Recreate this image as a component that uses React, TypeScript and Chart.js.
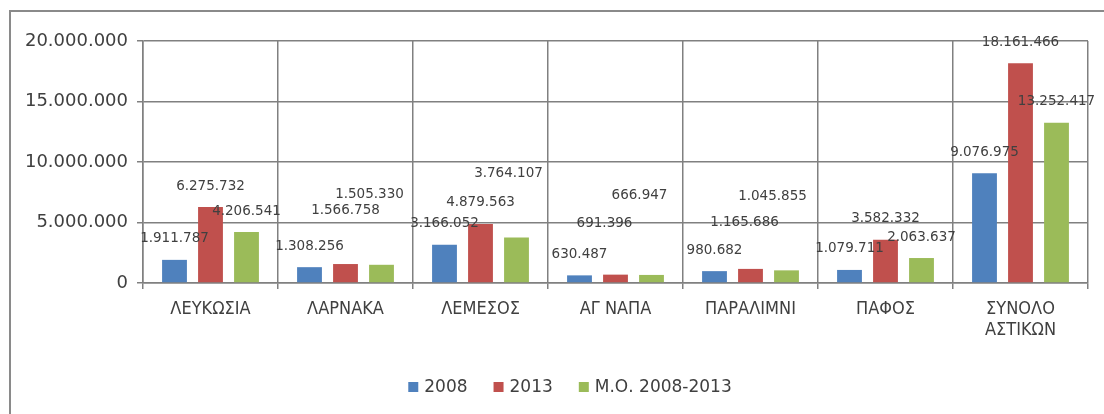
import React, { useEffect, useRef } from 'react';
import { Chart, registerables } from 'chart.js';

Chart.register(...registerables);

const categories: (string | string[])[] = [
  'ΛΕΥΚΩΣΙΑ',
  'ΛΑΡΝΑΚΑ',
  'ΛΕΜΕΣΟΣ',
  'ΑΓ ΝΑΠΑ',
  'ΠΑΡΑΛΙΜΝΙ',
  'ΠΑΦΟΣ',
  ['ΣΥΝΟΛΟ', 'ΑΣΤΙΚΩΝ'],
];

const seriesNames = ['2008', '2013', 'Μ.Ο. 2008-2013'];

const values2008 = [1911787, 1308256, 3166052, 630487, 980682, 1079711, 9076975];
const values2013 = [6275732, 1566758, 4879563, 691396, 1165686, 3582332, 18161466];
const valuesAvg = [4206541, 1505330, 3764107, 666947, 1045855, 2063637, 13252417];

const yMin = 0;
const yMax = 20000000;
const yStep = 5000000;

// label nudges (px) relative to the default "above the bar" position
const labelNudges: [number, number][][] = [
  [[0, 0], [0, 0], [0, 0], [0, 0], [0, 0], [0, 0], [0, 0]],
  [[0, 0], [0, -33], [0, 0], [-11, -30], [-6, -25], [0, 0], [0, 0]],
  [[0, 0], [-12, -49], [-8, -43], [-12, -58], [-14, -53], [0, 0], [0, 0]],
];

const colors = ['#4F81BD', '#C0504D', '#9BBB59'];
const gridColor = '#808080';
const textColor = '#404040';
const numFont = '"DejaVu Sans", "Liberation Sans", sans-serif';
const catFont = '"Liberation Sans Narrow", "DejaVu Sans Condensed", "Liberation Sans", sans-serif';

const fmt = (v: number) => String(Math.round(v)).replace(/\B(?=(\d{3})+(?!\d))/g, '.');

const borderPlugin = {
  id: 'outerBorder',
  beforeDraw(chart: any) {
    const ctx = chart.ctx;
    ctx.save();
    ctx.fillStyle = '#ffffff';
    ctx.fillRect(0, 0, chart.width, chart.height);
    ctx.strokeStyle = '#8a8a8a';
    ctx.lineWidth = 2;
    ctx.beginPath();
    ctx.moveTo(10, chart.height);
    ctx.lineTo(10, 11);
    ctx.lineTo(chart.width, 11);
    ctx.stroke();
    ctx.restore();
  },
};

const valueLabelPlugin = {
  id: 'valueLabels',
  afterDatasetsDraw(chart: any) {
    const ctx = chart.ctx;
    ctx.save();
    ctx.font = `13.5px ${numFont}`;
    ctx.fillStyle = textColor;
    ctx.textAlign = 'center';
    ctx.textBaseline = 'middle';
    chart.data.datasets.forEach((ds: any, di: number) => {
      const meta = chart.getDatasetMeta(di);
      meta.data.forEach((bar: any, i: number) => {
        const [dx, dy] = labelNudges[di][i];
        ctx.fillText(fmt(ds.data[i]), bar.x + dx, bar.y - 21 + dy);
      });
    });
    ctx.restore();
  },
};

const legendPlugin = {
  id: 'customLegend',
  afterDraw(chart: any) {
    const ctx = chart.ctx;
    ctx.save();
    ctx.font = `17px ${numFont}`;
    ctx.textBaseline = 'middle';
    ctx.textAlign = 'left';
    const box = 10;
    const boxGap = 6;
    const itemGap = 26;
    const items = chart.data.datasets.map((ds: any) => ({
      label: ds.label,
      color: ds.backgroundColor,
      w: box + boxGap + ctx.measureText(ds.label).width,
    }));
    const total = items.reduce((s: number, it: any) => s + it.w, 0) + itemGap * (items.length - 1);
    const cx = 570;
    const cy = 387;
    let x = cx - total / 2;
    items.forEach((it: any) => {
      ctx.fillStyle = it.color;
      ctx.fillRect(x, cy - box / 2, box, box);
      ctx.fillStyle = textColor;
      ctx.fillText(it.label, x + box + boxGap, cy + 1);
      x += it.w + itemGap;
    });
    ctx.restore();
  },
};

export default function App() {
  const canvasRef = useRef<HTMLCanvasElement | null>(null);

  useEffect(() => {
    if (!canvasRef.current) return;
    const seriesValues = [values2008, values2013, valuesAvg];
    const chart = new Chart(canvasRef.current, {
      type: 'bar',
      data: {
        labels: categories,
        datasets: seriesNames.map((name, i) => ({
          label: name,
          data: seriesValues[i],
          backgroundColor: colors[i],
          borderWidth: 0,
          categoryPercentage: 0.8,
          barPercentage: 0.69,
        })),
      },
      options: {
        responsive: true,
        maintainAspectRatio: false,
        animation: false,
        layout: { padding: { left: 0, right: 16, top: 41, bottom: 71 } },
        plugins: {
          legend: { display: false },
          tooltip: { enabled: false },
        },
        scales: {
          x: {
            grid: {
              color: gridColor,
              lineWidth: 1.5,
              offset: true,
              drawTicks: true,
              tickLength: 6,
              tickColor: gridColor,
            },
            border: { color: gridColor, width: 1.5 },
            ticks: {
              color: textColor,
              font: { family: catFont, size: 18, lineHeight: 1.15 },
              padding: 10,
              maxRotation: 0,
              autoSkip: false,
            },
            afterFit: (s: any) => {
              s.height = 60;
            },
          },
          y: {
            min: yMin,
            max: yMax,
            grid: {
              color: gridColor,
              lineWidth: 1.5,
              drawTicks: true,
              tickLength: 6,
              tickColor: gridColor,
            },
            border: { color: gridColor, width: 1.5 },
            ticks: {
              stepSize: yStep,
              color: textColor,
              font: { family: numFont, size: 18 },
              padding: 9,
              callback: (v: any) => fmt(Number(v)),
            },
            afterFit: (s: any) => {
              s.width = 143;
            },
          },
        },
      },
      plugins: [borderPlugin, valueLabelPlugin, legendPlugin],
    });
    return () => chart.destroy();
  }, []);

  return (
    <div style={{ position: 'absolute', left: 0, top: 0, width: 1104, height: 414 }}>
      <canvas ref={canvasRef} />
    </div>
  );
}
